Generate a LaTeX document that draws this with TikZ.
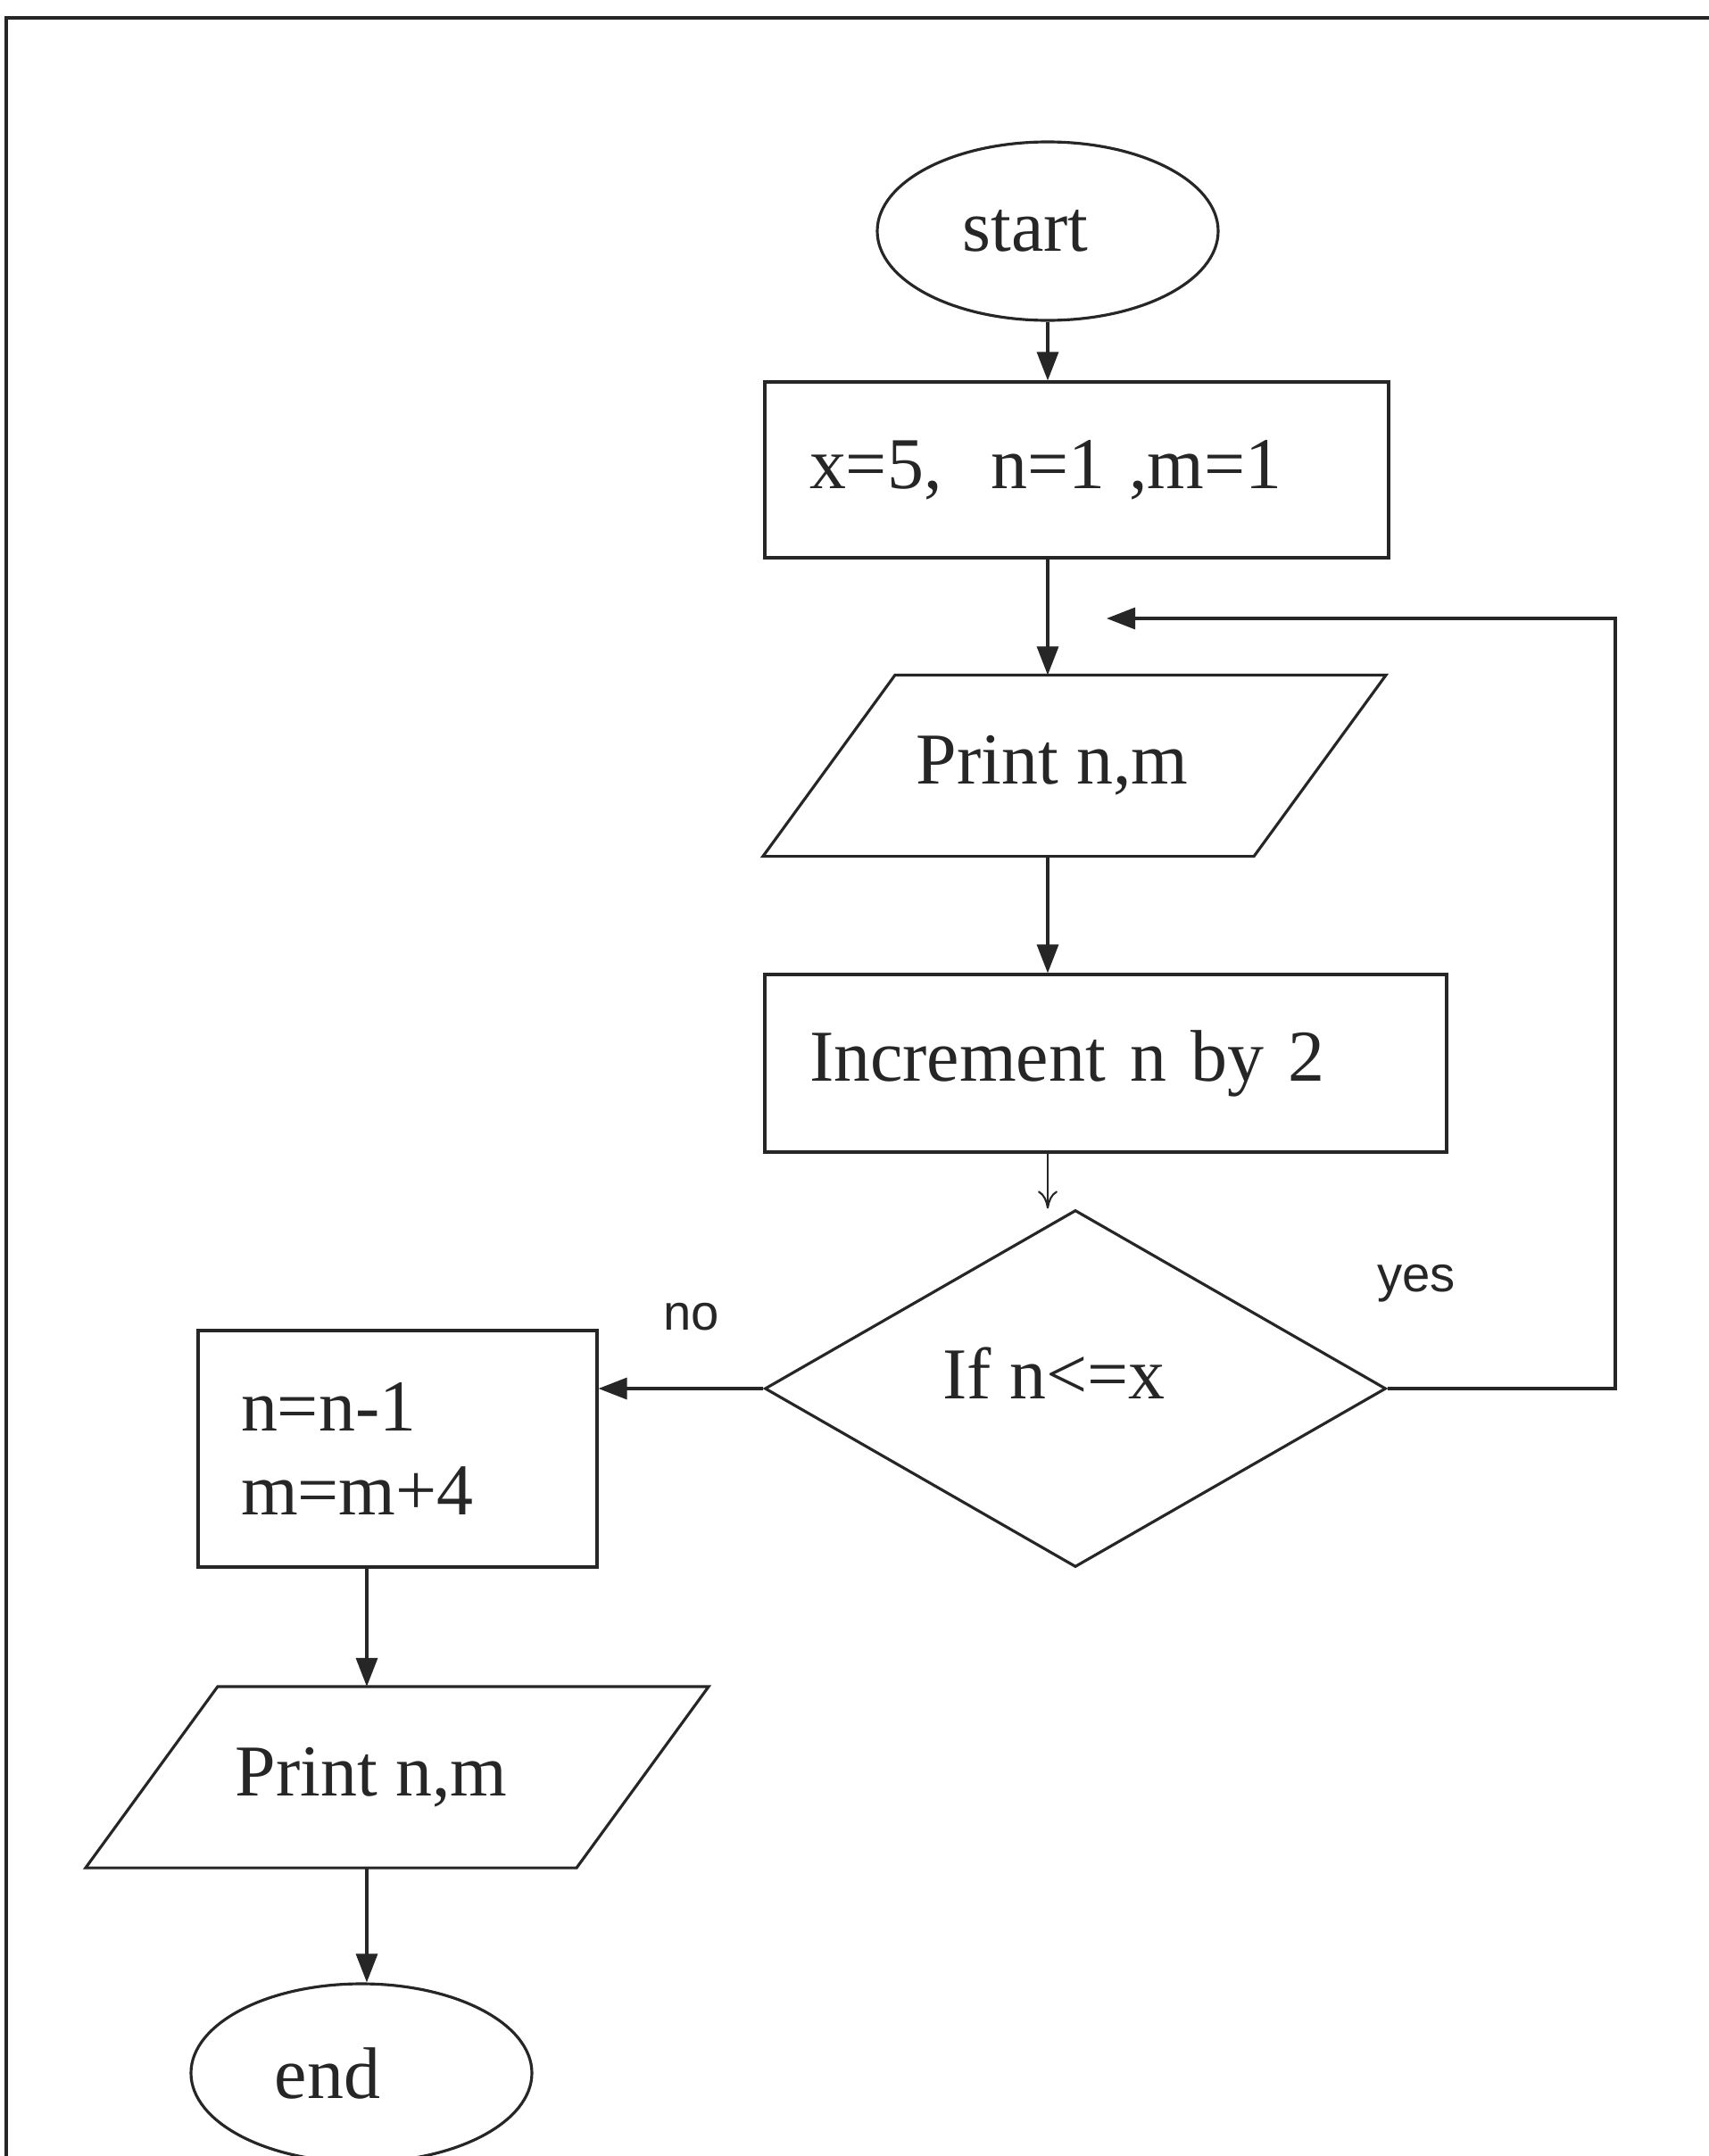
\documentclass[tikz,border=0pt]{standalone}
\usepackage{fontspec}
\setmainfont{Liberation Serif}
\newfontfamily\yesnofont{Liberation Sans}
\usetikzlibrary{shapes.geometric,arrows.meta}

\begin{document}
\begin{tikzpicture}[
    color=black!85, line width=0.9pt,
    every node/.style={font=\fontsize{23.3}{27}\selectfont},
    term/.style={draw, ellipse, minimum width=3.82cm, minimum height=2cm, inner sep=0pt},
    proc/.style={draw, rectangle, align=left, inner xsep=0.5cm},
    io/.style={rectangle, minimum width=5.47cm, minimum height=2cm, inner sep=0pt},
    cond/.style={draw, diamond, minimum width=6.96cm, minimum height=4cm, inner sep=0pt},
    arr/.style={-{Triangle[length=3.2mm,width=2.4mm]}},
    thinarr/.style={line width=0.6pt, -{To[length=2mm,width=2.2mm]}},
    yn/.style={font=\yesnofont\fontsize{16}{18}\selectfont}
  ]
    \clip (0,0) rectangle (19.15,-24.16);

    \coordinate (Start) at (11.74, -2.59);
    \coordinate (Init) at (12.065, -5.265);
    \coordinate (Out) at (12.04, -8.58);
    \coordinate (Inc) at (12.39, -11.915);
    \coordinate (If) at (12.05, -15.56);
    \coordinate (Corner) at (18.10, -15.56);
    \coordinate (Back) at (12.40, -6.93);
    \coordinate (Upd) at (4.455, -16.235);
    \coordinate (Outb) at (4.45, -19.915);
    \coordinate (End) at (4.05, -23.23);
    \coordinate (Col) at (4.11, 0);
    \coordinate (FrameB) at (0.07, -24.16);
    \coordinate (FrameR) at (19.15, -0.20);

    % frame
    \draw[line width=1.3pt] (FrameB) |- (FrameR);

    \node[term] (start) at (Start) {start\kern0.5cm};
    \node[proc, text width=5.99cm, minimum height=1.97cm] (init) at (Init) {x=5,~ n=1 ,m=1};
    \node[io] (out) at (Out) {Print n,m\kern0.5cm};
    \node[proc, text width=6.64cm, minimum height=1.99cm] (inc) at (Inc) {Increment n by 2};
    \node[cond] (if) at (If) {\raisebox{0.35cm}{If n<=x}\kern0.48cm};
    \node[proc, inner xsep=0.48cm, text width=3.51cm, minimum height=2.65cm] (upd) at (Upd) {n=n-1\\ m=m+4};
    \node[io] (outb) at (Outb) {Print n,m\kern0.58cm};
    \node[term] (end) at (End) {end\kern0.76cm};

    % parallelograms round the two print boxes
    \foreach \p in {out,outb}
      \draw ([xshift=-7.4mm]\p.south west) -- ([xshift=7.4mm]\p.north west)
        -- ([xshift=7.4mm]\p.north east) -- ([xshift=-7.4mm]\p.south east) -- cycle;

    \node[yn] (no) at (7.75, -14.76) {no};
    \node[yn] (yes) at (15.87, -14.38) {yes};

    \draw[arr] (start.south) -- (start.south |- init.north);
    \draw[arr] (init.south -| start) -- (out.north -| start);
    \draw[arr] (out.south -| start) -- (inc.north -| start);
    \draw[thinarr] (inc.south -| start) -- (if.north -| start);

    \draw[arr] (if.east) -- (Corner) |- (Back);
    \draw[arr] (if.west) -- (if.west -| upd.east);

    \draw[arr] (upd.south -| Col) -- (outb.north -| Col);
    \draw[arr] (outb.south -| Col) -- (end.north -| Col);
  \end{tikzpicture}
\end{document}
